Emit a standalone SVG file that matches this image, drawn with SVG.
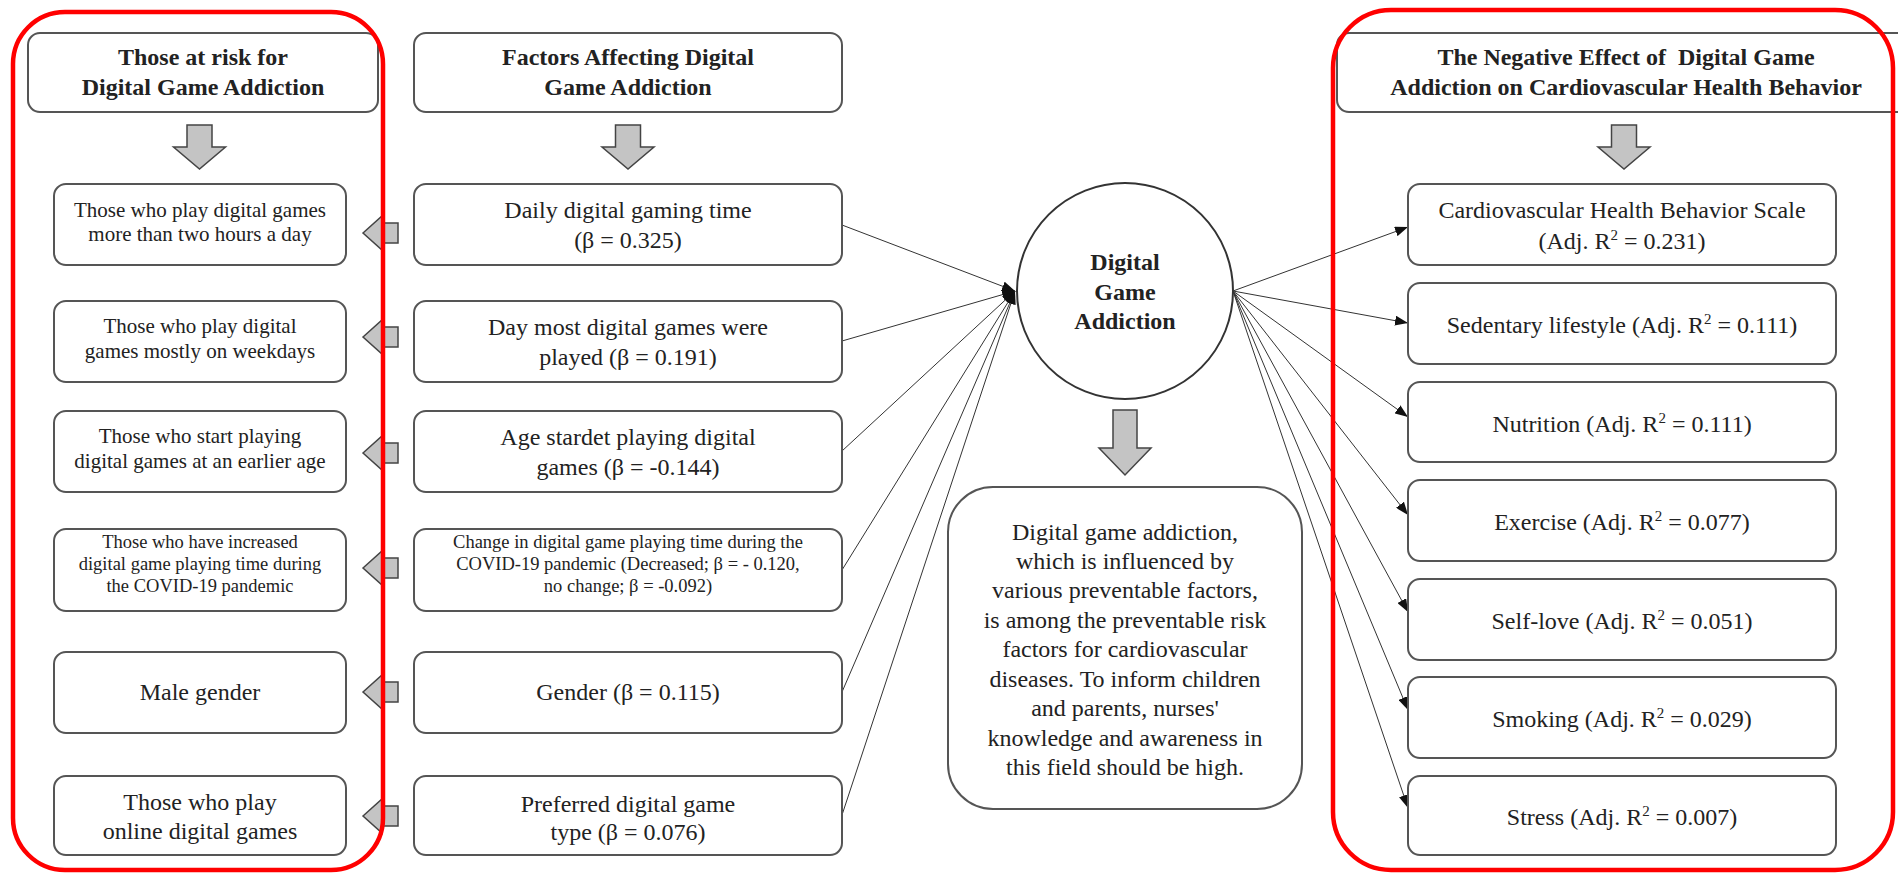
<svg xmlns="http://www.w3.org/2000/svg" xmlns:xlink="http://www.w3.org/1999/xlink" width="1898" height="873" viewBox="0 0 1898 873">
<style>
.box{fill:#fff;stroke:#555;stroke-width:2}
.t{font-family:"Liberation Serif","Times New Roman",serif;fill:#222;text-anchor:middle}
.h{font-size:24px;font-weight:bold}
.n{font-size:24px}
.m{font-size:21px}
.s{font-size:18.5px}
.blk{fill:#c4c4c4;stroke:#444;stroke-width:1.5}
.con{stroke:#333;stroke-width:1;fill:none}
.red{fill:none;stroke:#ff0000;stroke-width:4.5}
</style>
<defs>
<path id="dn" d="M-12.5,0 H12.5 V22 H26 L0,44 L-26,22 H-12.5 Z"/>
<path id="dnL" d="M-12,0 H12 V38 H26 L0,65 L-26,38 H-12 Z"/>
<path id="lf" d="M0,0 L19,-17 V-10 H35 V10 H19 V17 Z"/>
<marker id="ah" markerUnits="userSpaceOnUse" markerWidth="14" markerHeight="10" refX="13" refY="5" orient="auto">
<path d="M0,0 L13,5 L0,10 Z" fill="#111"/>
</marker>
</defs>
<rect width="1898" height="873" fill="#fff"/>

<g id="connectors">
<line class="con" x1="842" y1="225" x2="1015" y2="291" marker-end="url(#ah)"/>
<line class="con" x1="842" y1="341" x2="1015" y2="291" marker-end="url(#ah)"/>
<line class="con" x1="842" y1="451" x2="1015" y2="291" marker-end="url(#ah)"/>
<line class="con" x1="842" y1="570" x2="1015" y2="291" marker-end="url(#ah)"/>
<line class="con" x1="842" y1="692" x2="1015" y2="291" marker-end="url(#ah)"/>
<line class="con" x1="842" y1="815" x2="1015" y2="291" marker-end="url(#ah)"/>
<line class="con" x1="1233" y1="291" x2="1408" y2="227" marker-end="url(#ah)"/>
<line class="con" x1="1233" y1="291" x2="1408" y2="323" marker-end="url(#ah)"/>
<line class="con" x1="1233" y1="291" x2="1408" y2="417" marker-end="url(#ah)"/>
<line class="con" x1="1233" y1="291" x2="1408" y2="515" marker-end="url(#ah)"/>
<line class="con" x1="1233" y1="291" x2="1408" y2="612" marker-end="url(#ah)"/>
<line class="con" x1="1233" y1="291" x2="1408" y2="710" marker-end="url(#ah)"/>
<line class="con" x1="1233" y1="291" x2="1408" y2="808" marker-end="url(#ah)"/>
</g>

<g id="block-arrows">
<use xlink:href="#dn" class="blk" x="199.5" y="125"/>
<use xlink:href="#dn" class="blk" x="628" y="125"/>
<use xlink:href="#dn" class="blk" x="1624" y="125"/>
<use xlink:href="#dnL" class="blk" x="1125" y="410"/>
<use xlink:href="#lf" class="blk" x="363" y="233"/>
<use xlink:href="#lf" class="blk" x="363" y="337"/>
<use xlink:href="#lf" class="blk" x="363" y="453"/>
<use xlink:href="#lf" class="blk" x="363" y="568"/>
<use xlink:href="#lf" class="blk" x="363" y="692"/>
<use xlink:href="#lf" class="blk" x="363" y="816"/>
</g>

<g id="hdr-risk">
<rect class="box" x="28" y="33" width="350" height="79" rx="12"/>
<text class="t h" x="203" y="65">Those at risk for</text>
<text class="t h" x="203" y="95">Digital Game Addiction</text>
</g>
<g id="hdr-factors">
<rect class="box" x="414" y="33" width="428" height="79" rx="12"/>
<text class="t h" x="628" y="65">Factors Affecting Digital</text>
<text class="t h" x="628" y="95">Game Addiction</text>
</g>
<g id="hdr-effect">
<rect class="box" x="1337" y="33" width="620" height="79" rx="12"/>
<text class="t h" x="1626" y="65" xml:space="preserve">The Negative Effect of  Digital Game</text>
<text class="t h" x="1626" y="95">Addiction on Cardiovascular Health Behavior</text>
</g>

<g id="risk1">
<rect class="box" x="54" y="184" width="292" height="81" rx="12"/>
<text class="t m" x="200" y="217">Those who play digital games</text>
<text class="t m" x="200" y="241">more than two hours a day</text>
</g>
<g id="risk2">
<rect class="box" x="54" y="301" width="292" height="81" rx="12"/>
<text class="t m" x="200" y="333">Those who play digital</text>
<text class="t m" x="200" y="358">games mostly on weekdays</text>
</g>
<g id="risk3">
<rect class="box" x="54" y="411" width="292" height="81" rx="12"/>
<text class="t m" x="200" y="443">Those who start playing</text>
<text class="t m" x="200" y="468">digital games at an earlier age</text>
</g>
<g id="risk4">
<rect class="box" x="54" y="529" width="292" height="82" rx="12"/>
<text class="t s" x="200" y="548">Those who have increased</text>
<text class="t s" x="200" y="570">digital game playing time during</text>
<text class="t s" x="200" y="592">the COVID-19 pandemic</text>
</g>
<g id="risk5">
<rect class="box" x="54" y="652" width="292" height="81" rx="12"/>
<text class="t n" x="200" y="700">Male gender</text>
</g>
<g id="risk6">
<rect class="box" x="54" y="776" width="292" height="79" rx="12"/>
<text class="t n" x="200" y="810">Those who play</text>
<text class="t n" x="200" y="839">online digital games</text>
</g>

<g id="factor1">
<rect class="box" x="414" y="184" width="428" height="81" rx="12"/>
<text class="t n" x="628" y="218">Daily digital gaming time</text>
<text class="t n" x="628" y="248">(β = 0.325)</text>
</g>
<g id="factor2">
<rect class="box" x="414" y="301" width="428" height="81" rx="12"/>
<text class="t n" x="628" y="335">Day most digital games were</text>
<text class="t n" x="628" y="365">played (β = 0.191)</text>
</g>
<g id="factor3">
<rect class="box" x="414" y="411" width="428" height="81" rx="12"/>
<text class="t n" x="628" y="445">Age stardet playing digital</text>
<text class="t n" x="628" y="475">games (β = -0.144)</text>
</g>
<g id="factor4">
<rect class="box" x="414" y="529" width="428" height="82" rx="12"/>
<text class="t s" x="628" y="548">Change in digital game playing time during the</text>
<text class="t s" x="628" y="570">COVID-19 pandemic (Decreased; β = - 0.120,</text>
<text class="t s" x="628" y="592">no change; β = -0.092)</text>
</g>
<g id="factor5">
<rect class="box" x="414" y="652" width="428" height="81" rx="12"/>
<text class="t n" x="628" y="700">Gender (β = 0.115)</text>
</g>
<g id="factor6">
<rect class="box" x="414" y="776" width="428" height="79" rx="12"/>
<text class="t n" x="628" y="812">Preferred digital game</text>
<text class="t n" x="628" y="840">type (β = 0.076)</text>
</g>

<g id="addiction">
<circle cx="1125" cy="291" r="108" fill="#fff" stroke="#333" stroke-width="2"/>
<text class="t h" x="1125" y="270">Digital</text>
<text class="t h" x="1125" y="300">Game</text>
<text class="t h" x="1125" y="329">Addiction</text>
</g>

<g id="conclusion">
<rect class="box" x="948" y="487" width="354" height="322" rx="45"/>
<text class="t n" x="1125" y="540">Digital game addiction,</text>
<text class="t n" x="1125" y="569">which is influenced by</text>
<text class="t n" x="1125" y="598">various preventable factors,</text>
<text class="t n" x="1125" y="628">is among the preventable risk</text>
<text class="t n" x="1125" y="657">factors for cardiovascular</text>
<text class="t n" x="1125" y="687">diseases. To inform children</text>
<text class="t n" x="1125" y="716">and parents, nurses'</text>
<text class="t n" x="1125" y="746">knowledge and awareness in</text>
<text class="t n" x="1125" y="775">this field should be high.</text>
</g>

<g id="effect1">
<rect class="box" x="1408" y="184" width="428" height="81" rx="12"/>
<text class="t n" x="1622" y="218">Cardiovascular Health Behavior Scale</text>
<text class="t n" x="1622" y="249">(Adj. R<tspan dy="-9" font-size="15">2</tspan><tspan dy="9"> = 0.231)</tspan></text>
</g>
<g id="effect2">
<rect class="box" x="1408" y="283" width="428" height="81" rx="12"/>
<text class="t n" x="1622" y="333">Sedentary lifestyle (Adj. R<tspan dy="-9" font-size="15">2</tspan><tspan dy="9"> = 0.111)</tspan></text>
</g>
<g id="effect3">
<rect class="box" x="1408" y="382" width="428" height="80" rx="12"/>
<text class="t n" x="1622" y="432">Nutrition (Adj. R<tspan dy="-9" font-size="15">2</tspan><tspan dy="9"> = 0.111)</tspan></text>
</g>
<g id="effect4">
<rect class="box" x="1408" y="480" width="428" height="81" rx="12"/>
<text class="t n" x="1622" y="530">Exercise (Adj. R<tspan dy="-9" font-size="15">2</tspan><tspan dy="9"> = 0.077)</tspan></text>
</g>
<g id="effect5">
<rect class="box" x="1408" y="579" width="428" height="81" rx="12"/>
<text class="t n" x="1622" y="629">Self-love (Adj. R<tspan dy="-9" font-size="15">2</tspan><tspan dy="9"> = 0.051)</tspan></text>
</g>
<g id="effect6">
<rect class="box" x="1408" y="677" width="428" height="81" rx="12"/>
<text class="t n" x="1622" y="727">Smoking (Adj. R<tspan dy="-9" font-size="15">2</tspan><tspan dy="9"> = 0.029)</tspan></text>
</g>
<g id="effect7">
<rect class="box" x="1408" y="776" width="428" height="79" rx="12"/>
<text class="t n" x="1622" y="825">Stress (Adj. R<tspan dy="-9" font-size="15">2</tspan><tspan dy="9"> = 0.007)</tspan></text>
</g>

<g id="highlights">
<rect class="red" x="13" y="12" width="370" height="858" rx="52"/>
<rect class="red" x="1333" y="10" width="560" height="860" rx="58"/>
</g>
</svg>
